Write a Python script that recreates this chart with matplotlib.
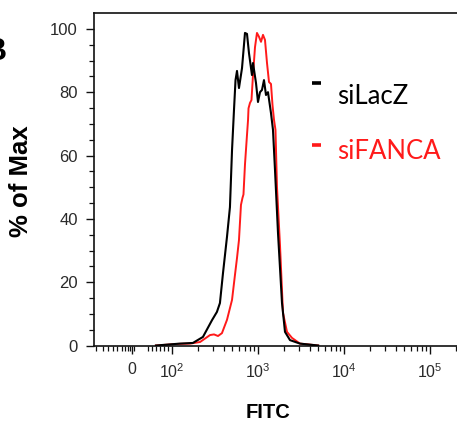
import matplotlib
matplotlib.use("Agg")
import matplotlib.pyplot as plt
from matplotlib.lines import Line2D
import numpy as np

# ---- data (FITC intensity, % of Max) ----
silacz_x = [60, 124, 175, 229, 292, 333, 361, 392, 436, 472, 499, 526, 548, 570,
            601, 652, 706, 745, 786, 851, 875, 948, 1000, 1055, 1113, 1174, 1239,
            1307, 1416, 1494, 1577, 1709, 1902, 2061, 2356, 3076, 5000]
silacz_y = [0, 0.6, 0.8, 2.7, 8.0, 10.6, 13.4, 22.9, 34.3, 43.7, 61.7, 74.4, 83.8, 86.7,
            81.3, 87.6, 98.7, 98.4, 92.3, 85.4, 89.2, 82.9, 76.9, 80.0, 80.7, 83.8, 79.1,
            80.0, 73.4, 68.1, 55.4, 35.5, 13.4, 4.3, 1.7, 0.6, 0]

sifanca_x = [60, 117, 162, 212, 277, 308, 343, 381, 436, 499, 540, 570, 601, 634, 660,
             678, 706, 745, 766, 776, 807, 840, 875, 923, 973, 1027, 1084, 1143, 1206,
             1273, 1343, 1416, 1475, 1536, 1597, 1663, 1802, 1953, 2175, 2485, 3076, 5000]
sifanca_y = [0, 0.5, 0.6, 1.1, 3.3, 3.5, 3.0, 3.9, 8.1, 14.4, 22.3, 27.6, 33.3, 44.4, 46.6,
             47.7, 57.2, 66.5, 71.2, 74.9, 76.6, 77.5, 85.4, 94.2, 98.7, 97.5, 95.9, 98.1, 96.5,
             89.2, 83.2, 82.6, 75.9, 71.2, 68.1, 50.0, 31.7, 10.3, 4.3, 2.4, 0.6, 0]

series_labels = ["siLacZ", "siFANCA"]
series_colors = ["black", "#ff1a1a"]

x_major = [0, 1e2, 1e3, 1e4, 1e5]
x_major_labels = ["0", "$10^{2}$", "$10^{3}$", "$10^{4}$", "$10^{5}$"]
y_major = [0, 20, 40, 60, 80, 100]

W, H = 457, 421
plt.rcParams["font.family"] = ["Liberation Sans", "DejaVu Sans"]
plt.rcParams["mathtext.fontset"] = "custom"
plt.rcParams["mathtext.rm"] = "Liberation Sans"
plt.rcParams["mathtext.it"] = "Liberation Sans"
plt.rcParams["mathtext.default"] = "regular"

fig = plt.figure(figsize=(W / 100, H / 100), dpi=100)
left, right = 93.5, 457
top, bottom = 13, 345.5
ax = fig.add_axes([left / W, (H - bottom) / H, (right - left) / W, (bottom - top) / H])

ax.set_xscale("symlog", linthresh=100, linscale=0.419, base=10)
ax.plot(silacz_x, silacz_y, color=series_colors[0], lw=1.5, zorder=3)
ax.plot(sifanca_x, sifanca_y, color=series_colors[1], lw=1.4, zorder=2)

ax.set_xlim(-96, 2.06e5)
ax.set_ylim(0, 105)

ax.set_xticks(x_major)
ax.set_xticklabels(x_major_labels)
minor_x = ([-90, -72, -60, -48, -38, -25, -18, -10, -5, 5, 40, 50, 60, 70, 80, 90]
           + [m * 10 ** e for e in (2, 3, 4) for m in range(2, 10)] + [2e5])
ax.set_xticks(minor_x, minor=True)
ax.set_yticks(y_major)
ax.set_yticks(np.arange(0, 105, 5), minor=True)

ax.spines["right"].set_visible(False)
for side in ("left", "bottom", "top"):
    ax.spines[side].set_linewidth(1.2)
    ax.spines[side].set_color("#111111")

ax.tick_params(axis="both", which="major", direction="out", length=5.8, width=1.0,
               color="#111111", labelsize=11.5, labelcolor="#2a2a2a")
ax.tick_params(axis="both", which="minor", direction="out", length=3.6, width=0.9,
               color="#111111")
ax.tick_params(axis="y", which="major", pad=5.5, labelsize=12)
ax.tick_params(axis="x", which="major", pad=6)

ax.set_ylabel("% of Max", fontsize=18.5, fontweight="bold")
ax.yaxis.set_label_coords(-(left - 33) / (right - left), 0.5)
ax.yaxis.label.set_y((bottom - 181) / (bottom - top))
fig.text(268 / W, 1 - 412 / H, "FITC", fontsize=14.5, fontweight="bold",
         ha="center", va="center")

# panel letter (cut off at left edge, as in the reference)
fig.text(-16 / W, 1 - 60 / H, "B", fontsize=23, fontweight="bold",
         ha="left", va="baseline")

# legend
leg_y_text = [104, 159]
leg_y_dash = [82.5, 145]
for lab, col, yt, yd in zip(series_labels, series_colors, leg_y_text, leg_y_dash):
    fig.add_artist(Line2D([312 / W, 321 / W], [1 - yd / H, 1 - yd / H],
                          transform=fig.transFigure, color=col, lw=2.6,
                          solid_capstyle="butt"))
    fig.text(337 / W, 1 - yt / H, lab, color=col, fontsize=18.5,
             family=["Lato", "DejaVu Sans"], ha="left", va="baseline")

fig.savefig("out.png", dpi=100)
